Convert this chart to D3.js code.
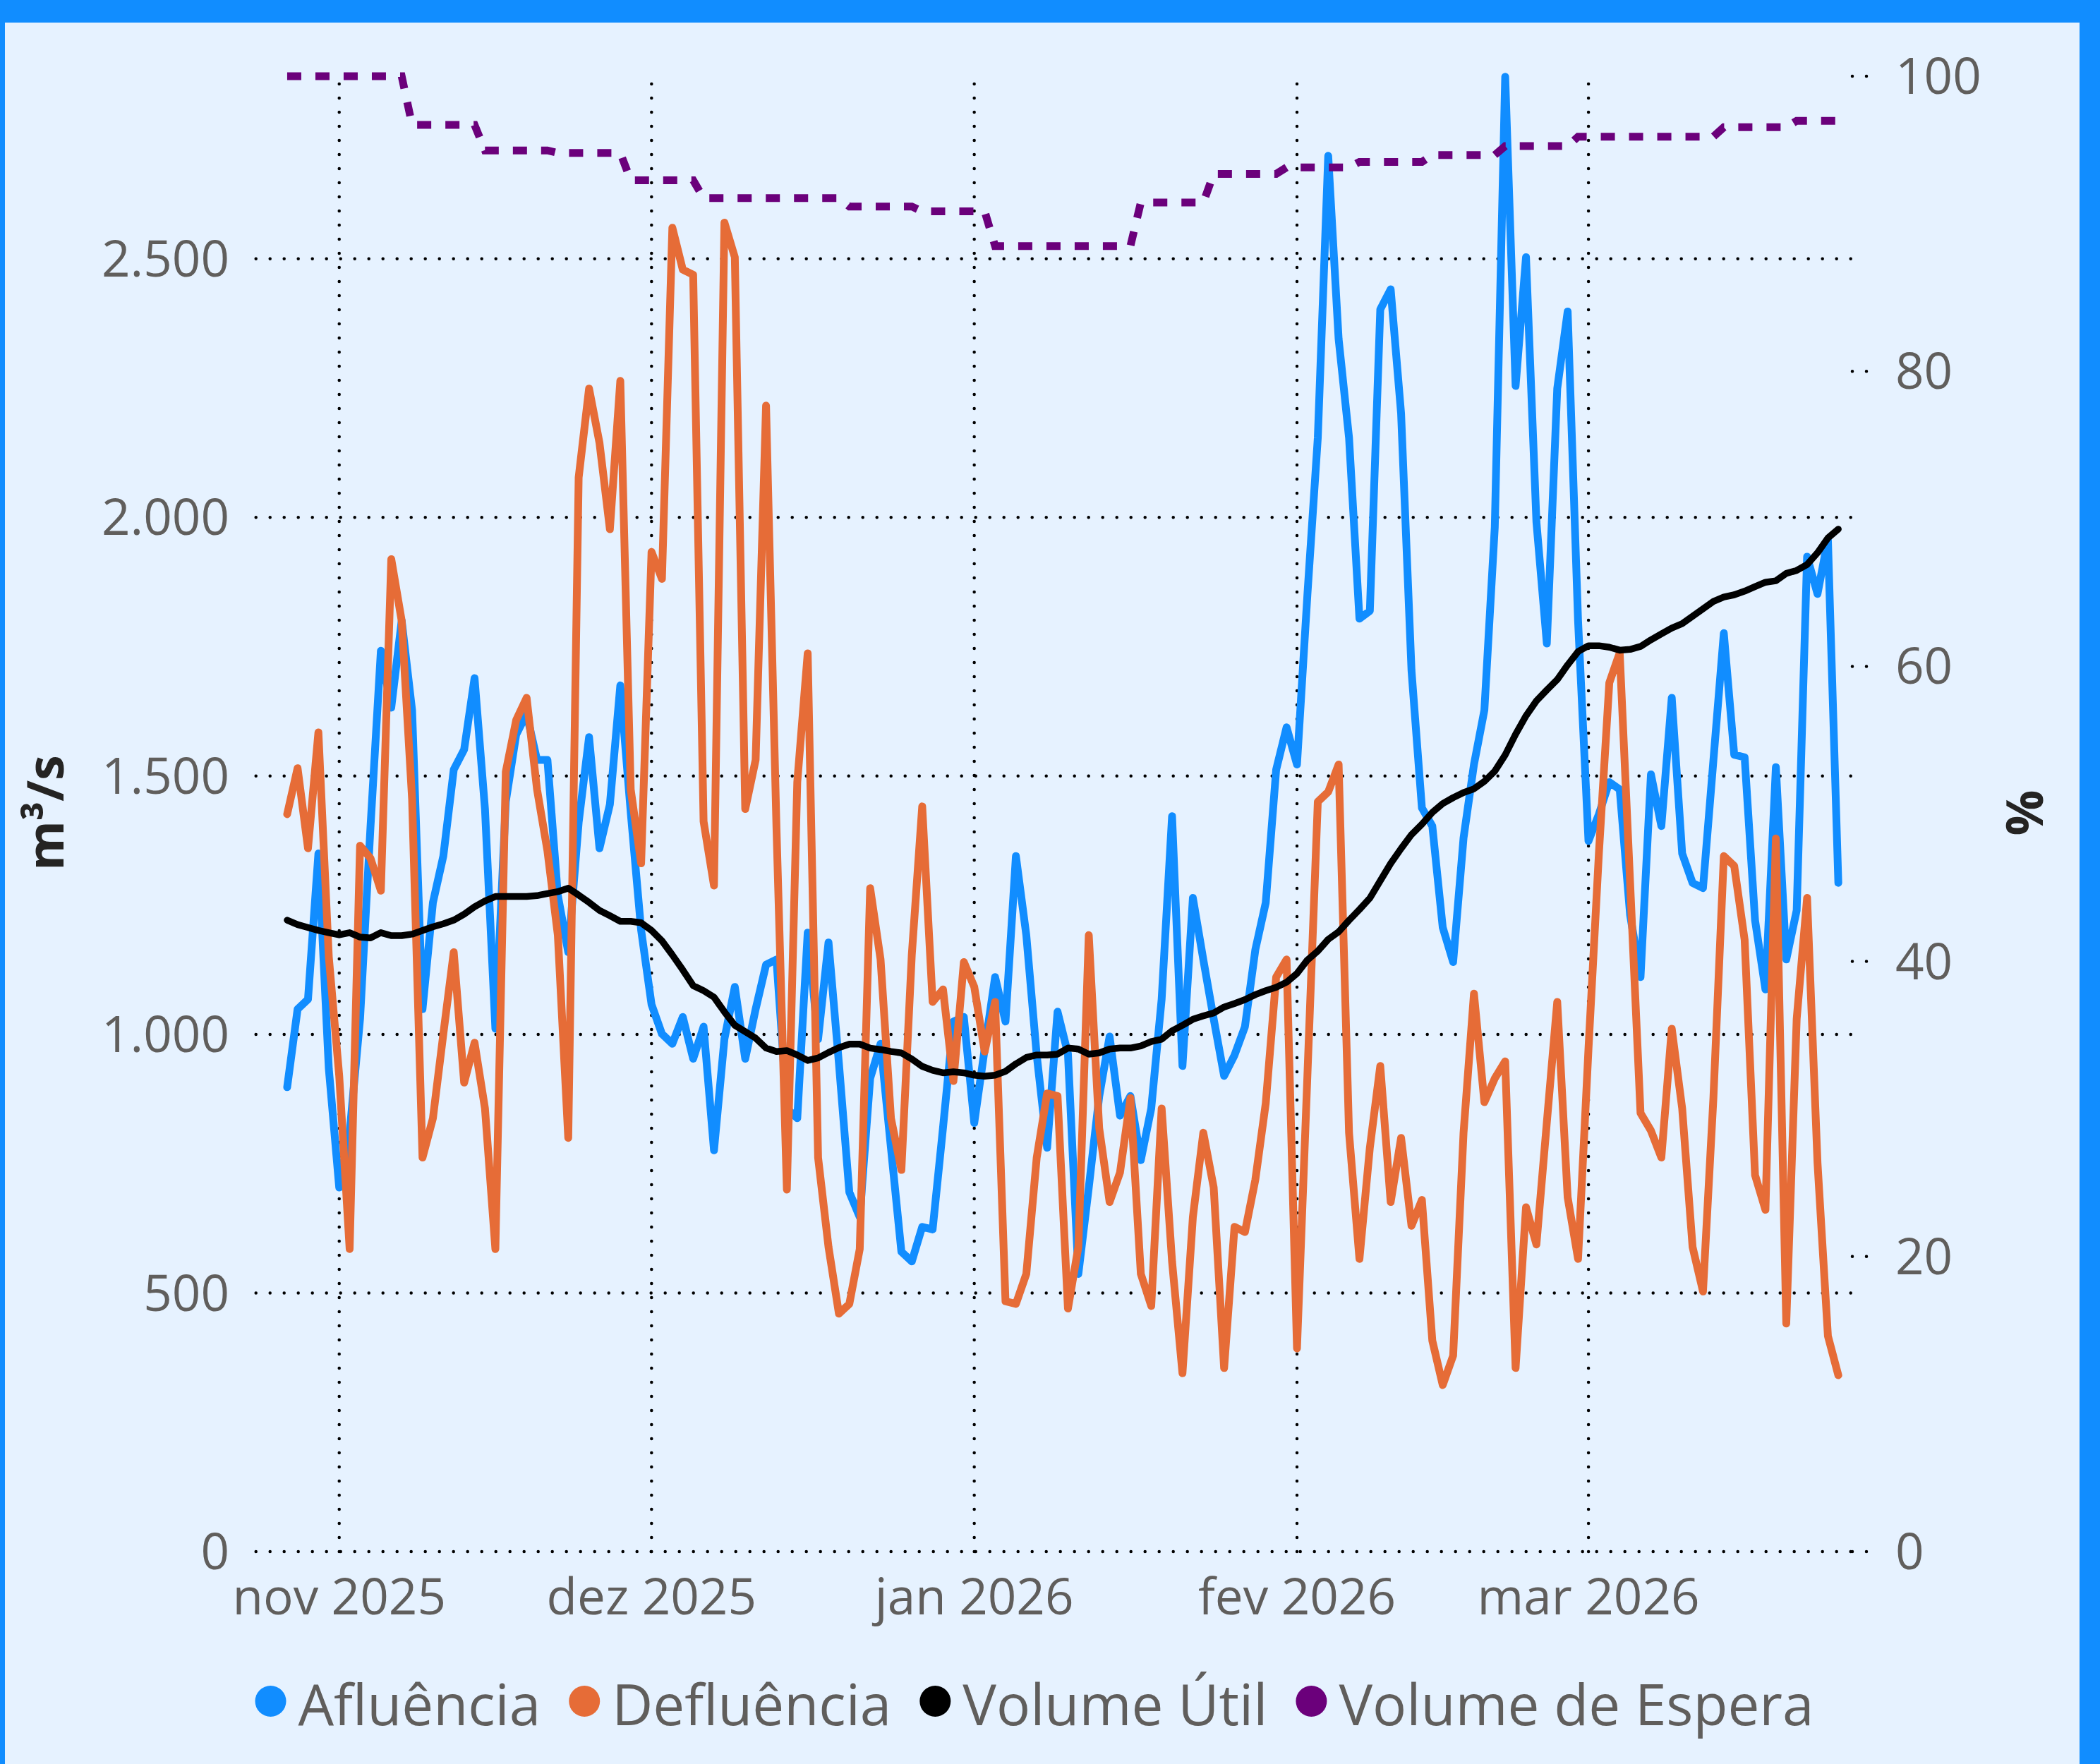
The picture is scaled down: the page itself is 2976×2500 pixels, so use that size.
<!DOCTYPE html>
<html>
<head>
<meta charset="utf-8">
<script src="https://cdn.jsdelivr.net/npm/d3@7"></script>
<style>
  html, body { margin: 0; padding: 0; background: #ffffff; }
  svg { display: block; }
</style>
</head>
<body>
<script>
// ---------------- DATA ----------------
const firstDay = "2025-10-27"; // daily series, one value per day
const afluencia = [
  898, 1049, 1068, 1350, 934, 704, 810, 1030, 1400, 1742,
  1632, 1800, 1627, 1049, 1255, 1345, 1512, 1551, 1689, 1436,
  1011, 1450, 1580, 1620, 1531, 1531, 1269, 1159, 1410, 1575,
  1360, 1445, 1675, 1430, 1202, 1058, 1001, 982, 1034, 953,
  1015, 776, 991, 1092, 953, 1049, 1135, 1145, 857, 838,
  1197, 991, 1178, 944, 695, 647, 915, 982, 780, 580,
  561, 628, 623, 820, 1025, 1034, 829, 972, 1111, 1025,
  1345, 1192, 960, 781, 1044, 963, 537, 704, 880, 996,
  843, 881, 757, 857, 1068, 1422, 939, 1264, 1145, 1030,
  920, 960, 1015, 1164, 1255, 1512, 1594, 1522, 1850, 2154,
  2699, 2345, 2154, 1804, 1819, 2402, 2441, 2201, 1704, 1438,
  1403, 1207, 1140, 1380, 1522, 1627, 1981, 2852, 2254, 2503,
  1991, 1756, 2249, 2398, 1800, 1374, 1426, 1488, 1474, 1231,
  1111, 1503, 1403, 1651, 1350, 1293, 1283, 1530, 1776, 1541,
  1536, 1221, 1087, 1517, 1145, 1240, 1924, 1852, 1957, 1293
];
const defluencia = [
  1426, 1515, 1360, 1584, 1150, 920, 585, 1365, 1341, 1278,
  1919, 1800, 1455, 762, 838, 1001, 1159, 907, 984, 857,
  585, 1508, 1608, 1651, 1474, 1355, 1192, 800, 2077, 2249,
  2144, 1977, 2264, 1474, 1331, 1933, 1881, 2560, 2479, 2469,
  1412, 1288, 2570, 2503, 1436, 1531, 2216, 1400, 700, 1488,
  1737, 762, 589, 460, 479, 585, 1283, 1145, 838, 738,
  1154, 1441, 1063, 1087, 910, 1140, 1092, 967, 1063, 484,
  479, 537, 762, 886, 881, 470, 589, 1192, 819, 676,
  733, 877, 537, 475, 857, 561, 345, 647, 810, 704,
  355, 628, 618, 719, 867, 1111, 1145, 393, 920, 1450,
  1469, 1522, 810, 566, 781, 939, 676, 800, 630, 680,
  408, 322, 379, 810, 1079, 869, 915, 948, 355, 666,
  594, 830, 1063, 685, 566, 972, 1350, 1680, 1738, 1293,
  848, 814, 762, 1011, 857, 589, 503, 877, 1345, 1326,
  1183, 728, 661, 1379, 441, 1030, 1264, 752, 417, 341
];
const volumeUtil = [
  42.8, 42.5, 42.3, 42.1, 41.95, 41.8, 41.95, 41.65, 41.6, 41.95,
  41.75, 41.75, 41.85, 42.1, 42.35, 42.55, 42.8, 43.2, 43.7, 44.1,
  44.4, 44.4, 44.4, 44.4, 44.46, 44.6, 44.73, 44.97, 44.5, 44.0,
  43.46, 43.1, 42.72, 42.72, 42.62, 42.1, 41.4, 40.44, 39.43, 38.36,
  38.02, 37.58, 36.58, 35.67, 35.24, 34.8, 34.13, 33.9, 33.96, 33.66,
  33.29, 33.46, 33.83, 34.16, 34.4, 34.4, 34.13, 34.03, 33.9, 33.8,
  33.39, 32.89, 32.62, 32.45, 32.52, 32.45, 32.29, 32.22, 32.29, 32.55,
  33.06, 33.49, 33.66, 33.66, 33.72, 34.13, 34.06, 33.72, 33.8, 34.06,
  34.13, 34.13, 34.27, 34.57, 34.73, 35.3, 35.67, 36.08, 36.31, 36.51,
  36.91, 37.15, 37.41, 37.75, 38.02, 38.25, 38.59, 39.19, 40.1, 40.7,
  41.5, 42.01, 42.79, 43.52, 44.29, 45.47, 46.64, 47.65, 48.6, 49.3,
  50.1, 50.7, 51.1, 51.45, 51.7, 52.2, 52.9, 54.0, 55.4, 56.65,
  57.66, 58.4, 59.1, 60.1, 61.0, 61.4, 61.4, 61.3, 61.1, 61.15,
  61.35, 61.8, 62.2, 62.6, 62.9, 63.4, 63.9, 64.4, 64.7, 64.85,
  65.1, 65.4, 65.7, 65.8, 66.3, 66.5, 66.9, 67.7, 68.7, 69.3
];
const volumeEspera = [
  100, 100, 100, 100, 100, 100, 100, 100, 100, 100,
  100, 100, 96.7, 96.7, 96.7, 96.7, 96.7, 96.7, 96.7, 94.97,
  94.97, 94.97, 94.97, 94.97, 94.97, 94.97, 94.8, 94.8, 94.8, 94.8,
  94.8, 94.8, 94.8, 92.95, 92.95, 92.95, 92.95, 92.95, 92.95, 92.95,
  91.74, 91.74, 91.74, 91.74, 91.74, 91.74, 91.74, 91.74, 91.74, 91.74,
  91.74, 91.74, 91.74, 91.74, 91.17, 91.17, 91.17, 91.17, 91.17, 91.17,
  91.17, 90.84, 90.84, 90.84, 90.84, 90.84, 90.84, 90.84, 88.49, 88.49,
  88.49, 88.49, 88.49, 88.49, 88.49, 88.49, 88.49, 88.49, 88.49, 88.49,
  88.49, 88.49, 91.44, 91.44, 91.44, 91.44, 91.44, 91.44, 91.44, 93.38,
  93.38, 93.38, 93.38, 93.38, 93.38, 93.38, 93.82, 93.82, 93.82, 93.82,
  93.82, 93.82, 93.82, 94.19, 94.19, 94.19, 94.19, 94.19, 94.19, 94.19,
  94.66, 94.66, 94.66, 94.66, 94.66, 94.66, 94.66, 95.26, 95.26, 95.26,
  95.26, 95.26, 95.26, 95.26, 95.9, 95.9, 95.9, 95.9, 95.9, 95.9,
  95.9, 95.9, 95.9, 95.9, 95.9, 95.9, 95.9, 95.9, 96.54, 96.54,
  96.54, 96.54, 96.54, 96.54, 96.54, 96.98, 96.98, 96.98, 96.98, 96.98
];
const leftTicks = [0, 500, 1000, 1500, 2000, 2500];
const rightTicks = [0, 20, 40, 60, 80, 100];
const monthTicks = ["2025-11-01", "2025-12-01", "2026-01-01", "2026-02-01", "2026-03-01"];
const monthLabels = ["nov 2025", "dez 2025", "jan 2026", "fev 2026", "mar 2026"];
const seriesNames = ["Afluência", "Defluência", "Volume Útil", "Volume de Espera"];
const leftAxisTitle = "m³/s";
const rightAxisTitle = "%";

// ---------------- STYLE ----------------
const seriesColors = ["#118DFF", "#E66C37", "#000000", "#6B007B"];
const FONT = "'Open Sans', 'Noto Sans', sans-serif";
const W = 2976, H = 2500;
const plot = { left: 362.7, right: 2627.3, top: 108, bottom: 2199 };

const parse = d3.utcParse("%Y-%m-%d");
const day0 = parse(firstDay);
const dates = afluencia.map((_, i) => d3.utcDay.offset(day0, i));

const x = d3.scaleUtc()
  .domain([parse("2025-10-24"), d3.utcHour.offset(parse("2026-03-26"), 12)])
  .range([plot.left, plot.right]);
const yL = d3.scaleLinear().domain([0, 2853]).range([plot.bottom, plot.top]);
const yR = d3.scaleLinear().domain([0, 100]).range([plot.bottom, plot.top]);

const svg = d3.select("body").append("svg")
  .attr("width", W).attr("height", H)
  .attr("viewBox", `0 0 ${W} ${H}`);

// frame
svg.append("rect").attr("x", 0).attr("y", 0).attr("width", W).attr("height", H).attr("fill", "#118DFF");
svg.append("rect").attr("x", 7).attr("y", 32).attr("width", 2947 - 7).attr("height", H - 32).attr("fill", "#E6F2FF");

const dotStyle = sel => sel.attr("stroke", "#000").attr("stroke-width", 4.5)
  .attr("stroke-linecap", "round").attr("stroke-dasharray", "0 20").attr("fill", "none");

// horizontal gridlines (left axis)
const grid = svg.append("g");
grid.selectAll("line.h").data(leftTicks).join("line").attr("class", "h")
  .attr("x1", plot.left).attr("x2", plot.right)
  .attr("y1", d => yL(d)).attr("y2", d => yL(d)).call(dotStyle);
// right axis tick stubs
grid.selectAll("line.r").data(rightTicks).join("line").attr("class", "r")
  .attr("x1", 2625).attr("x2", 2646)
  .attr("y1", d => yR(d)).attr("y2", d => yR(d)).call(dotStyle);
// vertical month gridlines
grid.selectAll("line.v").data(monthTicks).join("line").attr("class", "v")
  .attr("x1", d => x(parse(d))).attr("x2", d => x(parse(d)))
  .attr("y1", plot.bottom).attr("y2", plot.top + 4).call(dotStyle);

// axis labels
const axisText = sel => sel.attr("font-family", FONT).attr("font-size", 71).attr("fill", "#605E5C");
svg.append("g").selectAll("text").data(leftTicks).join("text")
  .attr("x", 325).attr("y", d => yL(d) + 25).attr("text-anchor", "end")
  .text(d => d3.format(",")(d).replace(/,/g, ".")).call(axisText);
svg.append("g").selectAll("text").data(rightTicks).join("text")
  .attr("x", 2686).attr("y", d => yR(d) + 25).attr("text-anchor", "start")
  .text(d => d).call(axisText);
svg.append("g").selectAll("text").data(monthTicks).join("text")
  .attr("x", d => x(parse(d))).attr("y", 2288).attr("text-anchor", "middle")
  .text((d, i) => monthLabels[i]).call(axisText);

// axis titles
svg.append("text").attr("transform", `translate(90,1152) rotate(-90)`)
  .attr("text-anchor", "middle").attr("font-family", FONT).attr("font-weight", 700)
  .attr("font-size", 72).attr("fill", "#252423").text(leftAxisTitle);
svg.append("text").attr("transform", `translate(2895,1152) rotate(-90)`)
  .attr("text-anchor", "middle").attr("font-family", FONT).attr("font-weight", 700)
  .attr("font-size", 72).attr("fill", "#252423").text(rightAxisTitle);

// series
const mk = (vals) => vals.map((v, i) => ({ date: dates[i], v }));
const lineL = d3.line().x(d => x(d.date)).y(d => yL(d.v));
const lineR = d3.line().x(d => x(d.date)).y(d => yR(d.v));

const lines = svg.append("g").attr("fill", "none");
lines.append("path").datum(mk(afluencia)).attr("d", lineL)
  .attr("stroke", seriesColors[0]).attr("stroke-width", 11)
  .attr("stroke-linejoin", "round").attr("stroke-linecap", "round");
lines.append("path").datum(mk(defluencia)).attr("d", lineL)
  .attr("stroke", seriesColors[1]).attr("stroke-width", 11)
  .attr("stroke-linejoin", "round").attr("stroke-linecap", "round");
lines.append("path").datum(mk(volumeUtil)).attr("d", lineR)
  .attr("stroke", seriesColors[2]).attr("stroke-width", 9.5)
  .attr("stroke-linejoin", "round").attr("stroke-linecap", "round");
lines.append("path").datum(mk(volumeEspera)).attr("d", lineR)
  .attr("stroke", seriesColors[3]).attr("stroke-width", 11)
  .attr("stroke-dasharray", "20 20").attr("stroke-linecap", "butt");

// legend
const legend = svg.append("g");
let cx = 0;
seriesNames.forEach((name, i) => {
  legend.append("circle").attr("cx", cx).attr("cy", 2411).attr("r", 22).attr("fill", seriesColors[i]);
  const t = legend.append("text").attr("x", cx + 39).attr("y", 2445)
    .attr("font-family", FONT).attr("font-size", 80).attr("fill", "#605E5C").text(name);
  const w = t.node().getComputedTextLength();
  cx = cx + 39 + w + 62;
});
const legendEnd = cx - 62;
const legendCenter = 1466;
legend.attr("transform", `translate(${legendCenter - (legendEnd - 22) / 2},0)`);
</script>
</body>
</html>
